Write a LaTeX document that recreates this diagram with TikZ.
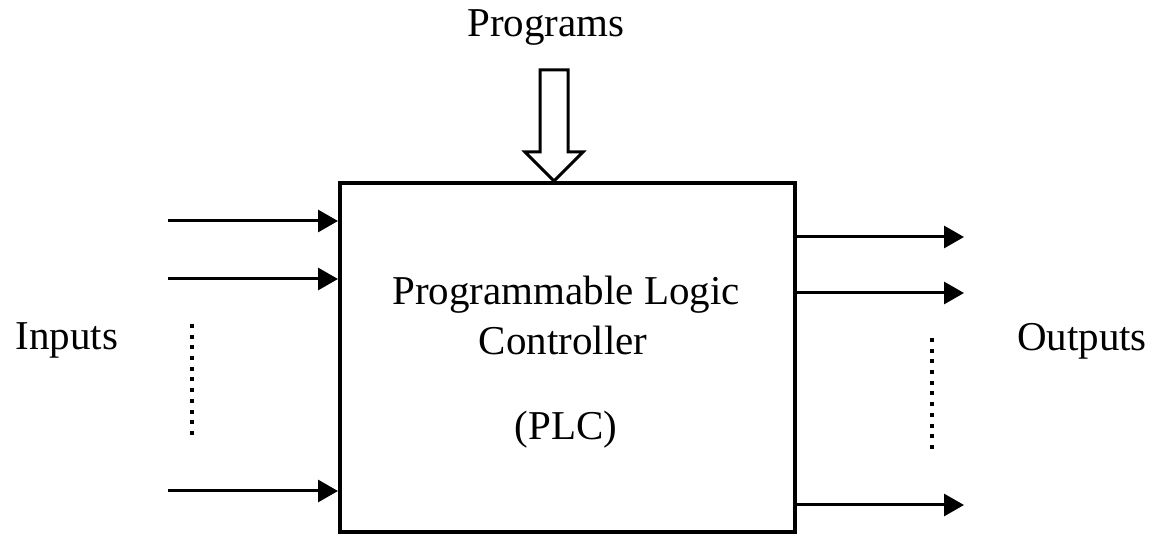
\documentclass[tikz,border=0pt]{standalone}
\usepackage{fontspec}
\setmainfont{Liberation Serif}
\usetikzlibrary{arrows.meta}

\begin{document}
\begin{tikzpicture}[x=1pt, y=-1pt, font=\fontsize{41}{50}\selectfont,
        sig/.style={line width=3pt, -{Triangle[length=20pt,width=22pt]}},
        dots/.style={line width=4pt, dash pattern=on 4pt off 6.7pt}]
        \useasboundingbox (0,0) rectangle (1152,534);

        % blok
        \node[draw, line width=4pt, minimum width=455pt, minimum height=349pt, inner sep=0pt] (plc) at (567.5,357.5) {};
        \node[anchor=base] (l1) at (566,305) {Programmable Logic};
        \node[anchor=base] (l2) at (563,355) {Controller};
        \node[anchor=base] (l3) at (566,440) {(PLC)};

        % programy
        \node[anchor=base] (prog) at (546,37) {Programs};
        \draw[line width=3pt] (540,70) -- (568,70) -- (568,152) -- (583,152)
        -- (plc.north -| 554,0) -- (525,152) -- (540,152) -- cycle;

        % vstupy
        \coordinate (in1) at (168,221);
        \coordinate (in2) at (168,279);
        \coordinate (in3) at (168,491);
        \draw[sig] (in1) -- (in1 -| plc.west);
        \draw[sig] (in2) -- (in2 -| plc.west);
        \draw[sig] (in3) -- (in3 -| plc.west);
        \draw[dots] (192,324) -- (192,435);
        \node[anchor=base] (inp) at (67,350) {Inputs};

        % vystupy
        \coordinate (out1) at (964,237);
        \coordinate (out2) at (964,293);
        \coordinate (out3) at (964,505);
        \draw[sig] (out1 -| plc.east) -- (out1);
        \draw[sig] (out2 -| plc.east) -- (out2);
        \draw[sig] (out3 -| plc.east) -- (out3);
        \draw[dots] (932,338) -- (932,449);
        \node[anchor=base] (outp) at (1082,351) {Outputs};

    \end{tikzpicture}
\end{document}
